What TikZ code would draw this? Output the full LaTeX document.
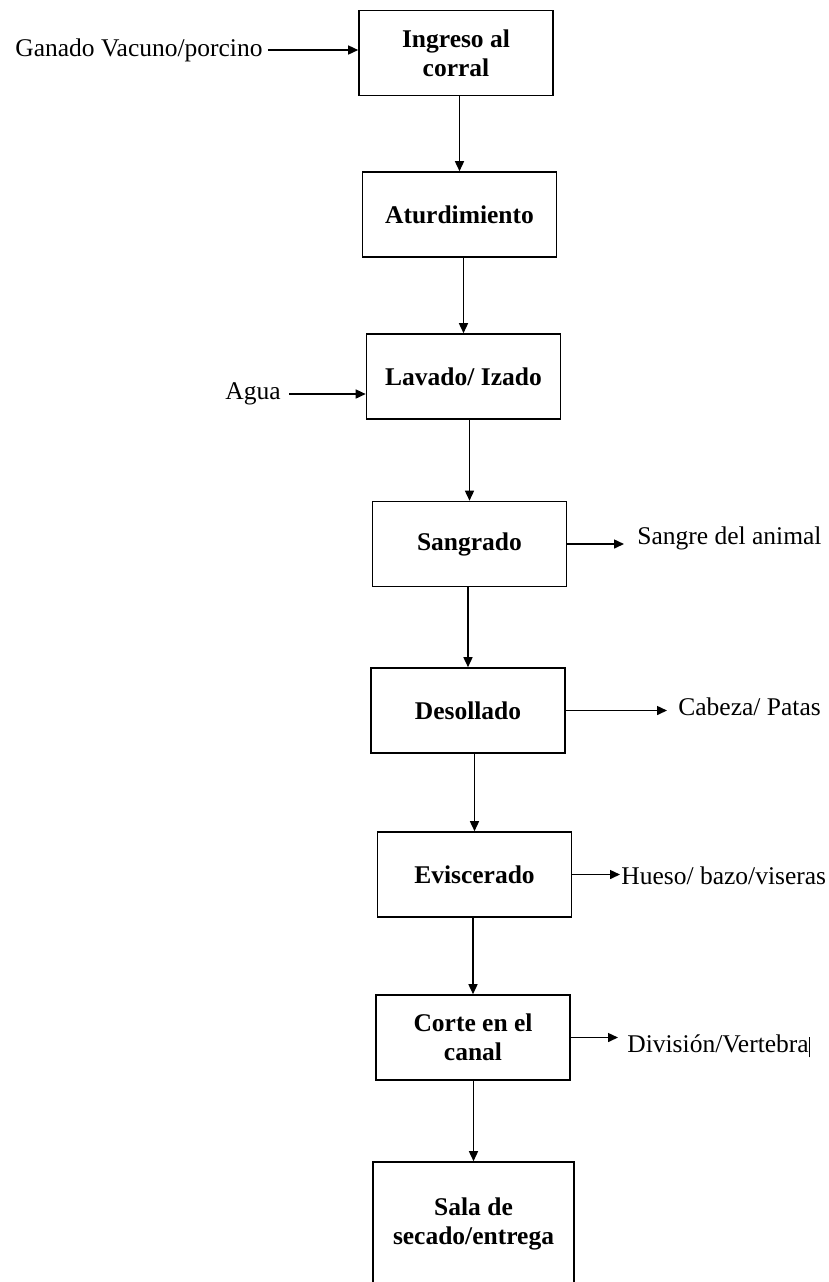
\documentclass[tikz,border=0pt]{standalone}
\usepackage{fontspec}
\setmainfont{Liberation Serif}
\usetikzlibrary{arrows.meta}
\begin{document}
\begin{tikzpicture}[x=0.5pt,y=-0.5pt,
  box/.style={draw, line width=0.8pt, minimum width=97pt, minimum height=42.5pt, inner sep=0pt, align=center, font=\fontsize{12.75}{14.5}\selectfont\bfseries},
  lbl/.style={inner sep=0pt, font=\fontsize{12.75}{14.5}\selectfont},
  arr/.style={-{Triangle[length=5pt,width=4.5pt]}, line width=0.75pt}]
\useasboundingbox (0,0) rectangle (829,1282);
\clip (0,0) rectangle (829,1282);
\node[box] (b1) at (456,53) {Ingreso al\\corral};
\node[box] (b2) at (459.5,214.5) {Aturdimiento};
\node[box] (b3) at (463.5,376.5) {Lavado/ Izado};
\node[box] (b4) at (469.5,544) {Sangrado};
\node[box] (b5) at (468,710.5) {Desollado};
\node[box] (b6) at (474.5,874.5) {Eviscerado};
\node[box] (b7) at (473,1037.5) {Corte en el\\canal};
\node[box, minimum width=100.5pt, minimum height=62pt] (b8) at (473.5,1224) {Sala de\\secado/entrega};

\node[lbl, anchor=west] (g) at (15,50) {Ganado Vacuno/porcino};
\node[lbl] (a) at (253,394) {Agua};
\node[lbl, anchor=west] (s) at (637,538) {Sangre del animal};
\node[lbl, anchor=west] (c) at (678,707) {Cabeza/ Patas};
\node[lbl, anchor=west] (h) at (621,876) {Hueso/ bazo/viseras};
\node[lbl, anchor=west] (d) at (627,1046) {División/Vertebra\rule[-2.5pt]{0.6pt}{10pt}};

\draw[arr, shorten <=2.5pt] (g.east) -- (g.east -| b1.west);
\draw[arr, shorten <=4pt] (a.east) -- (a.east -| b3.west);
\draw[arr] (b1.south -| b2.north) -- (b2.north);
\draw[arr] (b2.south -| b3.north) -- (b3.north);
\draw[arr] (b3.south -| b4.north) -- (b4.north);
\draw[arr] (b4.south -| b5.north) -- (b5.north);
\draw[arr] (b5.south -| b6.north) -- (b6.north);
\draw[arr] (b6.south -| b7.north) -- (b7.north);
\draw[arr] (b7.south -| b8.north) -- (b8.north);
\draw[arr, shorten >=6.5pt] (b4.east) -- (b4.east -| s.west);
\draw[arr, shorten >=5.5pt] (b5.east) -- (b5.east -| c.west);
\draw[arr, shorten >=0.5pt] (b6.east) -- (b6.east -| h.west);
\draw[arr, shorten >=4.5pt] (b7.east) -- (b7.east -| d.west);
\end{tikzpicture}
\end{document}
